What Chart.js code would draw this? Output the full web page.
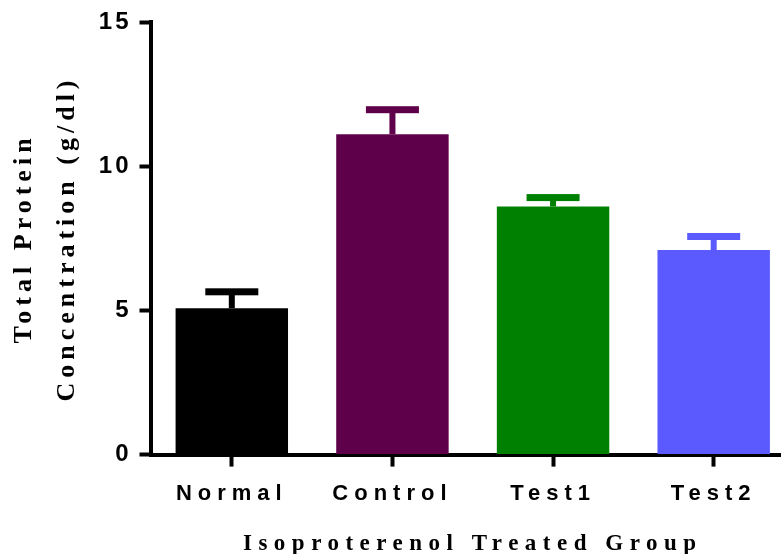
<!DOCTYPE html>
<html lang="en">
<head>
<meta charset="UTF-8">
<title>Total Protein Concentration</title>
<style>
  html, body { margin: 0; padding: 0; background: #fff; overflow: hidden; }
  #wrap { width: 781px; height: 554px; overflow: hidden; }
</style>
</head>
<body>
<div id="wrap"><canvas id="proteinChart" width="800" height="554"></canvas></div>
<script src="https://cdn.jsdelivr.net/npm/chart.js"></script>
<script>
const groups = ['Normal', 'Control', 'Test1', 'Test2'];
const meanValues = [5.08, 11.12, 8.61, 7.10];
const errorValues = [0.57, 0.85, 0.31, 0.47];
const barColors = ['#000000', '#5f004b', '#008000', '#5a5aff'];
const yTicks = [0, 5, 10, 15];

// GraphPad-style spaced-out lettering, per scale and per part
const letterGaps = {
  x: { drawLabels: '6px', drawTitle: '6.5px' },
  y: { drawLabels: '3px', drawTitle: '5px' }
};

const spacing = {
  id: 'spacing',
  beforeUpdate(chart) { chart.ctx.letterSpacing = '3px'; },
  beforeDraw(chart) { chart.ctx.letterSpacing = '3px'; },
  afterLayout(chart) {
    Object.keys(letterGaps).forEach(id => {
      const scale = chart.scales[id];
      if (!scale || scale._spaced) return;
      Object.keys(letterGaps[id]).forEach(fn => {
        const orig = scale[fn];
        scale[fn] = function () {
          const prev = this.ctx.letterSpacing;
          this.ctx.letterSpacing = letterGaps[id][fn];
          orig.apply(this, arguments);
          this.ctx.letterSpacing = prev;
        };
      });
      scale._spaced = true;
    });
  }
};

// mean + SEM whiskers (upper only)
const errorBars = {
  id: 'errorBars',
  afterDatasetsDraw(chart) {
    const ctx = chart.ctx;
    const y = chart.scales.y;
    const meta = chart.getDatasetMeta(0);
    ctx.save();
    meta.data.forEach((bar, i) => {
      const top = y.getPixelForValue(meanValues[i] + errorValues[i]);
      ctx.fillStyle = barColors[i];
      ctx.fillRect(bar.x - 3, top, 6, bar.y - top);
      ctx.fillRect(bar.x - 26.5, top - 3.5, 53, 7);
    });
    ctx.restore();
  }
};

const axisGrid = {
  display: true,
  drawOnChartArea: false,
  tickLength: 12,
  tickWidth: 4,
  tickColor: '#000'
};

new Chart(document.getElementById('proteinChart'), {
  type: 'bar',
  data: {
    labels: groups,
    datasets: [{
      data: meanValues,
      backgroundColor: barColors,
      borderWidth: 0,
      categoryPercentage: 0.7,
      barPercentage: 1
    }]
  },
  options: {
    responsive: false,
    animation: false,
    layout: { padding: { top: 10, right: 6, left: 3, bottom: 0 } },
    plugins: { legend: { display: false }, tooltip: { enabled: false } },
    scales: {
      x: {
        offset: true,
        grid: Object.assign({}, axisGrid, { offset: false }),
        border: { color: '#000', width: 4 },
        ticks: {
          color: '#000',
          padding: 14,
          maxRotation: 0,
          font: { family: 'Liberation Sans', weight: 'bold', size: 22 }
        },
        title: {
          display: true,
          text: 'Isoproterenol Treated Group',
          color: '#000',
          padding: { top: 12, bottom: -2 },
          font: { family: 'Liberation Serif', weight: 'bold', size: 23, lineHeight: 1 }
        }
      },
      y: {
        min: 0,
        max: 15,
        afterBuildTicks(scale) { scale.ticks = yTicks.map(v => ({ value: v })); },
        grid: axisGrid,
        border: { color: '#000', width: 4 },
        ticks: {
          color: '#000',
          padding: 8,
          font: { family: 'Liberation Sans', weight: 'bold', size: 24 }
        },
        title: {
          display: true,
          text: ['Total Protein', 'Concentration (g/dl)'],
          color: '#000',
          padding: { top: 0, bottom: 2 },
          font: { family: 'Liberation Serif', weight: 'bold', size: 26, lineHeight: 1.65 }
        }
      }
    }
  },
  plugins: [spacing, errorBars]
});
</script>
</body>
</html>
